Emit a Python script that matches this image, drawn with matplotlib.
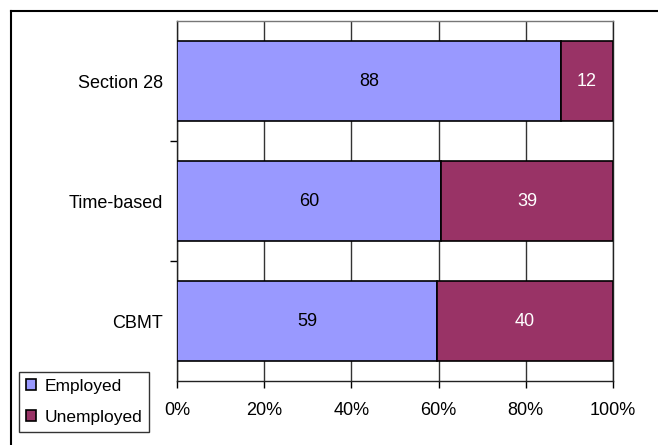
import numpy as np
import matplotlib.pyplot as plt
from matplotlib.lines import Line2D

plt.rcParams['font.family'] = ['Liberation Sans', 'DejaVu Sans']

# Datos (de abajo hacia arriba)
categorias = ['CBMT', 'Time-based', 'Section 28']
empleados = [59, 60, 88]
desempleados = [40, 39, 12]
etiquetas_x = ['0%', '20%', '40%', '60%', '80%', '100%']

color_emp = '#9999FF'
color_des = '#993366'

W, H = 658, 445
fig = plt.figure(figsize=(W / 100, H / 100), dpi=100)
ax = fig.add_axes([177 / W, 1 - 381 / H, 436 / W, 360 / H])

emp = np.array(empleados, dtype=float)
des = np.array(desempleados, dtype=float)
total = emp + des
p_emp = emp / total
p_des = des / total

fs = 13

y = np.arange(len(categorias))
alto = 0.667
ax.barh(y, p_emp, height=alto, color=color_emp, edgecolor='black', linewidth=1.2,
        label='Employed', zorder=3)
ax.barh(y, p_des, left=p_emp, height=alto, color=color_des, edgecolor='black',
        linewidth=1.2, label='Unemployed', zorder=3)

for i in range(len(categorias)):
    ax.text(p_emp[i] / 2, y[i], str(empleados[i]), ha='center', va='center',
            fontsize=fs, color='black', zorder=4)
    ax.text(p_emp[i] + p_des[i] / 2, y[i], str(desempleados[i]), ha='center',
            va='center', fontsize=fs, color='white', zorder=4)

ax.set_xlim(0, 1)
ax.set_ylim(-0.5, 2.5)
ax.set_xticks(np.linspace(0, 1, 6))
ax.set_xticklabels(etiquetas_x, fontsize=fs)
ax.set_yticks(y)
ax.set_yticklabels(categorias, fontsize=fs)
ax.set_yticks([0.5, 1.5], minor=True)
ax.tick_params(axis='y', which='major', length=0, pad=10)
ax.tick_params(axis='y', which='minor', length=5, width=1, direction='out')
ax.tick_params(axis='x', length=5, width=1, direction='out', pad=10)
ax.grid(axis='x', color='#333333', linewidth=1, zorder=0)

for lado in ['left', 'bottom', 'right']:
    ax.spines[lado].set_color('#222222')
    ax.spines[lado].set_linewidth(1)
ax.spines['top'].set_color('#777777')
ax.spines['top'].set_linewidth(1)

leg = fig.legend(loc='upper left', bbox_to_anchor=(19 / W, 1 - 372 / H),
                 fontsize=12.5, frameon=True, fancybox=False, edgecolor='black',
                 handlelength=0.6, handleheight=0.6, handletextpad=0.45,
                 borderpad=0.4, labelspacing=0.9, borderaxespad=0)
leg.get_frame().set_linewidth(1)
for h in leg.legend_handles:
    h.set_linewidth(1.2)

# Marco exterior
fig.add_artist(Line2D([11 / W, 11 / W], [0, 1 - 11 / H], color='black', linewidth=1.5))
fig.add_artist(Line2D([11 / W, 1], [1 - 11 / H, 1 - 11 / H], color='black', linewidth=1.5))

fig.savefig('out.png', dpi=100)
